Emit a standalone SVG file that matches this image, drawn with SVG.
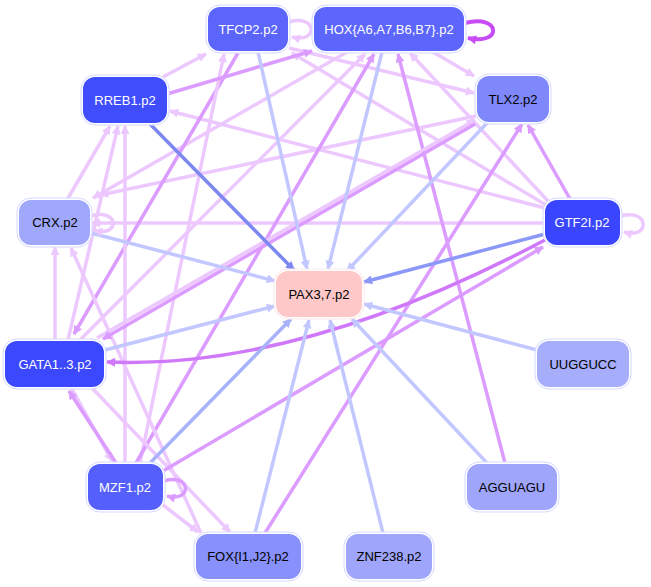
<svg xmlns="http://www.w3.org/2000/svg" width="651" height="587" viewBox="0 0 651 587">
<style>
.e{fill:none;stroke-width:3.5}
.lp{stroke:#ecc8ff;marker-end:url(#aLP)}
.mp{stroke:#dc9cff;marker-end:url(#aMP)}
.dp{stroke:#cf78fa;marker-end:url(#aDP)}
.hx{stroke:#c84cf6;stroke-width:4;marker-end:url(#aHX)}
.lb{stroke:#c2c8ff;marker-end:url(#aLB)}
.mb{stroke:#8c98f8;marker-end:url(#aMB)}
.db{stroke:#7c88f0;marker-end:url(#aDB)}
.b2{stroke:#a8b2fa;marker-end:url(#aB2)}
.outer{fill:#fff;stroke:#d4d8ff;stroke-width:1}
.t{font-family:"Liberation Sans",Arial,sans-serif;font-size:13px;text-anchor:middle}
.w{fill:#fff}
.k{fill:#000}
</style>
<defs>
<marker id="aLP" viewBox="0 0 10 10" refX="9" refY="5" markerUnits="userSpaceOnUse" markerWidth="12" markerHeight="9" orient="auto"><path d="M0,0L10,5L0,10z" fill="#ecc8ff"/></marker>
<marker id="aMP" viewBox="0 0 10 10" refX="9" refY="5" markerUnits="userSpaceOnUse" markerWidth="12" markerHeight="9" orient="auto"><path d="M0,0L10,5L0,10z" fill="#dc9cff"/></marker>
<marker id="aDP" viewBox="0 0 10 10" refX="9" refY="5" markerUnits="userSpaceOnUse" markerWidth="12" markerHeight="9" orient="auto"><path d="M0,0L10,5L0,10z" fill="#cf78fa"/></marker>
<marker id="aHX" viewBox="0 0 10 10" refX="9" refY="5" markerUnits="userSpaceOnUse" markerWidth="12" markerHeight="9" orient="auto"><path d="M0,0L10,5L0,10z" fill="#c84cf6"/></marker>
<marker id="aLB" viewBox="0 0 10 10" refX="9" refY="5" markerUnits="userSpaceOnUse" markerWidth="12" markerHeight="9" orient="auto"><path d="M0,0L10,5L0,10z" fill="#c2c8ff"/></marker>
<marker id="aMB" viewBox="0 0 10 10" refX="9" refY="5" markerUnits="userSpaceOnUse" markerWidth="12" markerHeight="9" orient="auto"><path d="M0,0L10,5L0,10z" fill="#8c98f8"/></marker>
<marker id="aDB" viewBox="0 0 10 10" refX="9" refY="5" markerUnits="userSpaceOnUse" markerWidth="12" markerHeight="9" orient="auto"><path d="M0,0L10,5L0,10z" fill="#7c88f0"/></marker>
<marker id="aB2" viewBox="0 0 10 10" refX="9" refY="5" markerUnits="userSpaceOnUse" markerWidth="12" markerHeight="9" orient="auto"><path d="M0,0L10,5L0,10z" fill="#a8b2fa"/></marker>
</defs>
<rect width="651" height="587" fill="#fff"/>
<g id="connectors">
<line class="e lp" x1="545" y1="223" x2="92" y2="223"/>
<line class="e lp" x1="545" y1="208" x2="170" y2="111"/>
<line class="e lp" x1="548" y1="201" x2="410" y2="53"/>
<line class="e lp" x1="546" y1="205" x2="292" y2="53"/>
<line class="e lp" x1="163" y1="77" x2="206" y2="54"/>
<line class="e lp" x1="433" y1="52" x2="474" y2="76"/>
<line class="e lp" x1="289" y1="48" x2="474" y2="93"/>
<line class="e lp" x1="347" y1="52" x2="93" y2="198"/>
<line class="e lp" x1="476" y1="116" x2="100" y2="195"/>
<line class="e lp" x1="67" y1="200" x2="110" y2="126"/>
<line class="e lp" x1="55" y1="340" x2="55" y2="247"/>
<line class="e lp" x1="68" y1="340" x2="118" y2="126"/>
<line class="e mp" x1="238" y1="53" x2="74" y2="334"/>
<line class="e lp" x1="80" y1="340" x2="365" y2="54"/>
<line class="e lp" x1="125" y1="463" x2="125" y2="126"/>
<line class="e lp" x1="140" y1="463" x2="224" y2="54"/>
<line class="e mp" x1="136" y1="463" x2="374" y2="54"/>
<line class="e lp" x1="92" y1="388" x2="230" y2="532"/>
<line class="e lp" x1="201" y1="533" x2="71" y2="248"/>
<line class="e lp" x1="163" y1="505" x2="198" y2="532"/>
<line class="e lp" x1="72" y1="389" x2="112" y2="461"/>
<line class="e mp" x1="116" y1="463" x2="69" y2="391"/>
<line class="e mp" x1="505" y1="463" x2="398" y2="54"/>
<line class="e mp" x1="265" y1="533" x2="522" y2="124"/>
<line class="e mp" x1="167" y1="94" x2="312" y2="51"/>
<line class="e mp" x1="570" y1="199" x2="528" y2="125"/>
<line class="e mp" x1="163" y1="471" x2="543" y2="247"/>
<line class="e lp" x1="97" y1="338" x2="475" y2="120"/>
<line class="e mp" x1="475" y1="124" x2="103" y2="339"/>
<path class="e dp" d="M545,240 Q300,370 107,362"/>
<line class="e lb" x1="258" y1="52" x2="307" y2="269"/>
<line class="e lb" x1="382" y1="52" x2="328" y2="269"/>
<line class="e lb" x1="487" y1="123" x2="347" y2="271"/>
<line class="e mb" x1="545" y1="234" x2="364" y2="282"/>
<line class="e lb" x1="537" y1="350" x2="364" y2="304"/>
<line class="e lb" x1="487" y1="463" x2="352" y2="319"/>
<line class="e lb" x1="383" y1="533" x2="330" y2="320"/>
<line class="e lb" x1="255" y1="533" x2="309" y2="320"/>
<line class="e b2" x1="150" y1="463" x2="291" y2="319"/>
<line class="e lb" x1="105" y1="350" x2="275" y2="306"/>
<line class="e lb" x1="91" y1="233" x2="275" y2="281"/>
<line class="e db" x1="150" y1="124" x2="294" y2="270"/>
<path class="e hx" d="M465,23 C502,14 502,46 468,38"/>
<path class="e lp" d="M289,22 C318,14 318,44 292,37"/>
<path class="e lp" d="M91,216 C120,208 120,238 94,230"/>
<path class="e lp" d="M621,216 C650,208 650,240 624,232"/>
<path class="e mp" d="M164,481 C192,473 192,503 167,496"/>
</g>
<g id="TFCP2"><rect class="outer" x="206" y="5" width="84" height="48" rx="14"/><rect x="208" y="7" width="80" height="44" rx="12" fill="#5b65fb"/><text class="t w" x="248" y="33.5">TFCP2.p2</text></g>
<g id="HOX"><rect class="outer" x="312" y="5" width="154" height="48" rx="14"/><rect x="314" y="7" width="150" height="44" rx="12" fill="#5c66fc"/><text class="t w" x="389" y="33.5">HOX{A6,A7,B6,B7}.p2</text></g>
<g id="RREB1"><rect class="outer" x="81" y="75" width="88" height="50" rx="14"/><rect x="83" y="77" width="84" height="46" rx="12" fill="#3f4dfd"/><text class="t w" x="125" y="104.5">RREB1.p2</text></g>
<g id="TLX2"><rect class="outer" x="475" y="74" width="76" height="50" rx="14"/><rect x="477" y="76" width="72" height="46" rx="12" fill="#7e88fb"/><text class="t k" x="513" y="103.5">TLX2.p2</text></g>
<g id="CRX"><rect class="outer" x="17" y="198" width="75" height="49" rx="14"/><rect x="19" y="200" width="71" height="45" rx="12" fill="#a0a8fb"/><text class="t k" x="55" y="226.5">CRX.p2</text></g>
<g id="GTF2I"><rect class="outer" x="543" y="198" width="79" height="49" rx="14"/><rect x="545" y="200" width="75" height="45" rx="12" fill="#3a46fd"/><text class="t w" x="582" y="226.5">GTF2I.p2</text></g>
<g id="PAX"><rect class="outer" x="274" y="269" width="90" height="50" rx="14" style="stroke:#ffe6e6"/><rect x="276" y="271" width="86" height="46" rx="12" fill="#ffc8c8"/><text class="t k" x="319" y="298.5">PAX3,7.p2</text></g>
<g id="GATA"><rect class="outer" x="3" y="339" width="103" height="50" rx="14"/><rect x="5" y="341" width="99" height="46" rx="12" fill="#3b48fd"/><text class="t w" x="55" y="368.5">GATA1..3.p2</text></g>
<g id="UUGGUCC"><rect class="outer" x="535" y="339" width="96" height="50" rx="14"/><rect x="537" y="341" width="92" height="46" rx="12" fill="#a6adfb"/><text class="t k" x="583" y="368.5">UUGGUCC</text></g>
<g id="MZF1"><rect class="outer" x="86" y="462" width="79" height="50" rx="14"/><rect x="88" y="464" width="75" height="46" rx="12" fill="#5560fc"/><text class="t w" x="125" y="491.5">MZF1.p2</text></g>
<g id="AGGUAGU"><rect class="outer" x="465" y="462" width="94" height="50" rx="14"/><rect x="467" y="464" width="90" height="46" rx="12" fill="#9ea5fb"/><text class="t k" x="512" y="491.5">AGGUAGU</text></g>
<g id="FOX"><rect class="outer" x="194" y="532" width="109" height="49" rx="14"/><rect x="196" y="534" width="105" height="45" rx="12" fill="#8790fb"/><text class="t k" x="248" y="560.5">FOX{I1,J2}.p2</text></g>
<g id="ZNF238"><rect class="outer" x="344" y="532" width="90" height="49" rx="14"/><rect x="346" y="534" width="86" height="45" rx="12" fill="#9ea5fb"/><text class="t k" x="389" y="560.5">ZNF238.p2</text></g>
</svg>
